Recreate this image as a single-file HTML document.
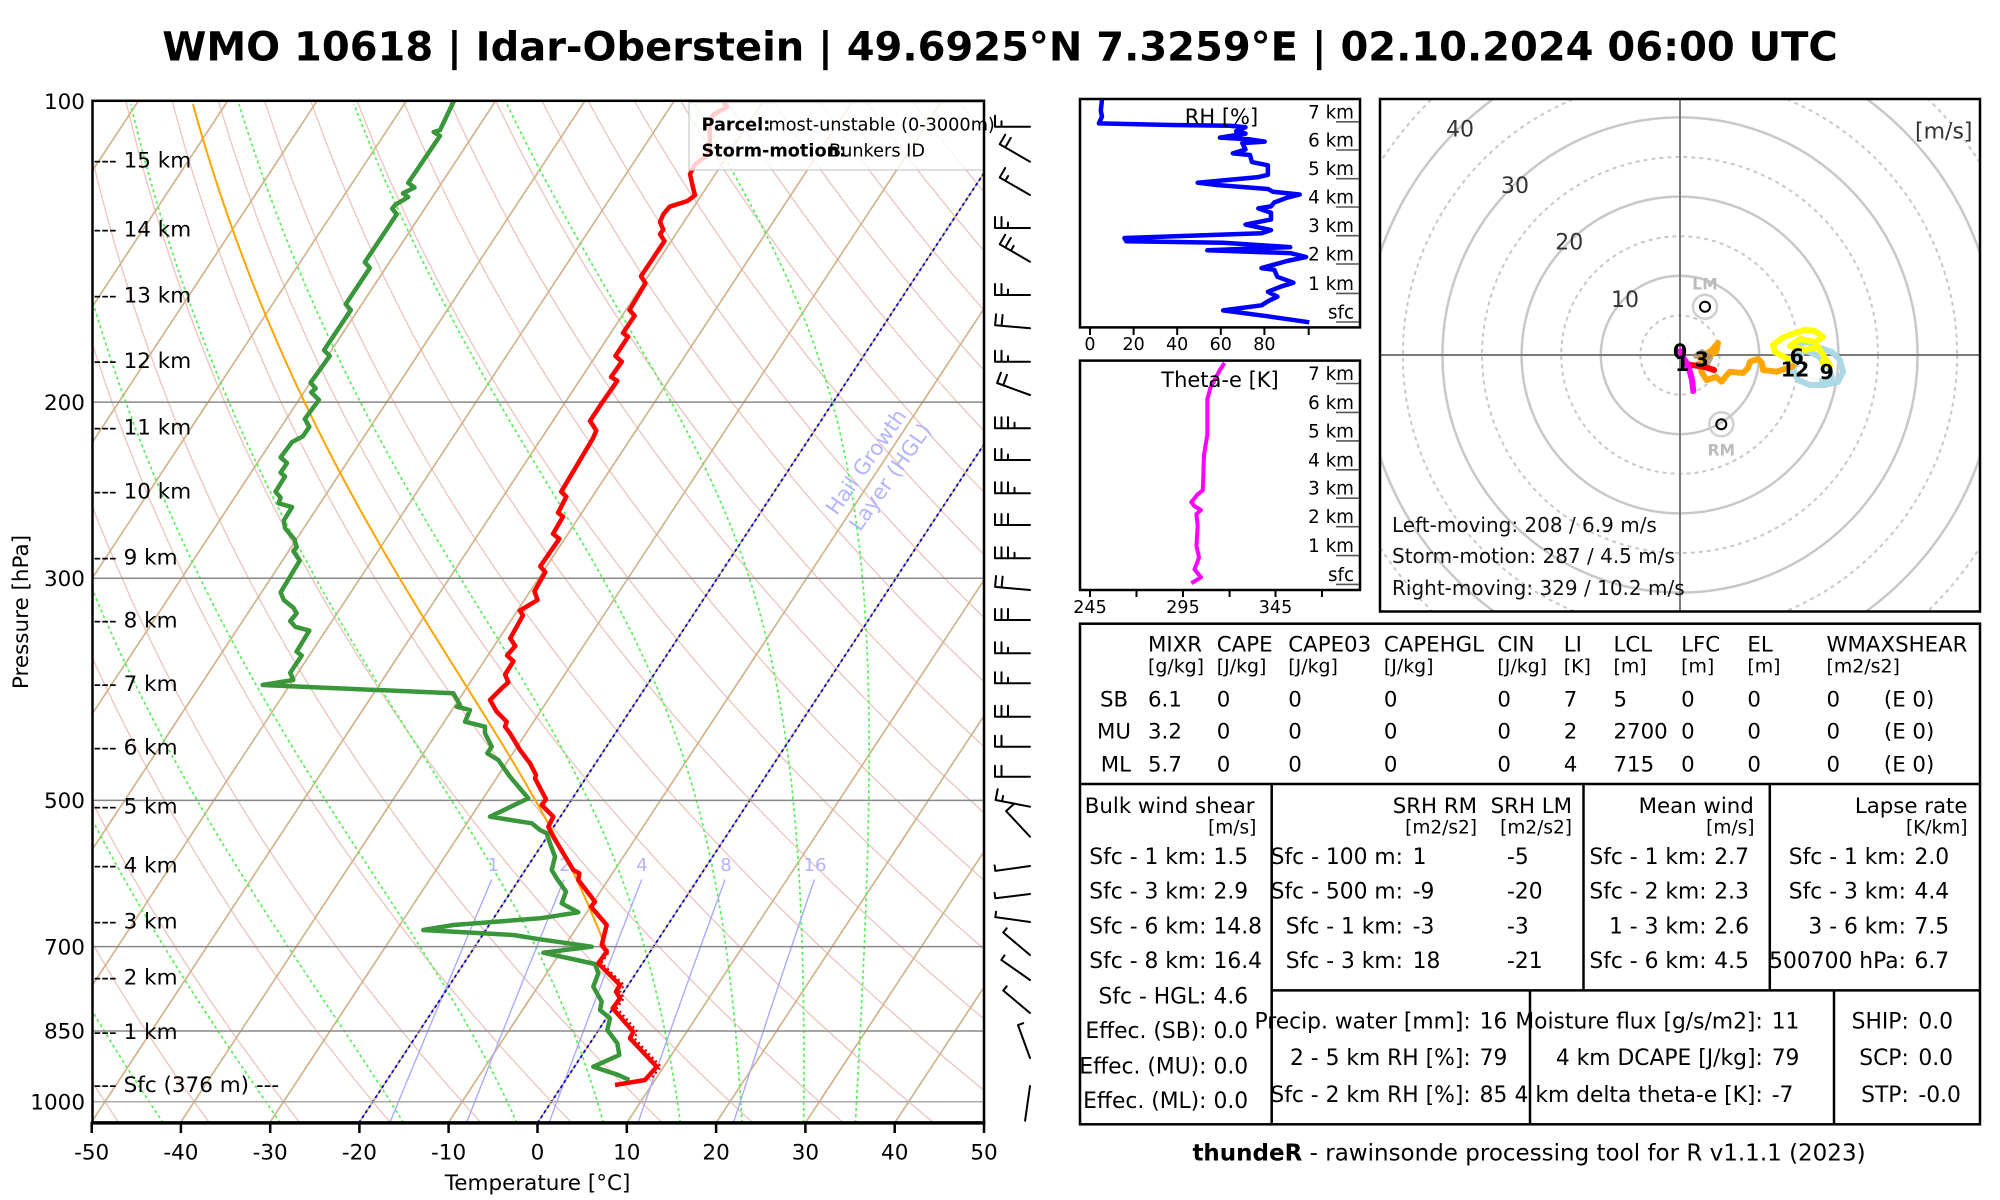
<!DOCTYPE html>
<html><head><meta charset="utf-8">
<style>
html,body{margin:0;padding:0;background:#fff;width:2000px;height:1200px;overflow:hidden}
svg{display:block}
text{font-family:"DejaVu Sans","Liberation Sans",sans-serif;}
</style></head><body>
<svg xmlns="http://www.w3.org/2000/svg" width="2000" height="1200" viewBox="0 0 2000 1200">
<defs>
<clipPath id="cp"><rect x="92.5" y="100.8" width="891.5" height="1022.1"/></clipPath>
<clipPath id="hc"><rect x="1380" y="99" width="600" height="512.5"/></clipPath>
<clipPath id="rhc"><rect x="1080" y="99" width="280" height="228.4"/></clipPath>
<clipPath id="tec"><rect x="1080" y="360.6" width="280" height="229.4"/></clipPath>
</defs>
<rect width="2000" height="1200" fill="#fff"/>
<text x="1000" y="60.5" text-anchor="middle" font-size="40" font-weight="bold">WMO 10618 | Idar-Oberstein | 49.6925°N 7.3259°E | 02.10.2024 06:00 UTC</text>

<!-- SKEW-T -->
<g clip-path="url(#cp)">
 <g id="dry" fill="none" stroke="#ebc4bc" stroke-width="1.3"></g>
 <g id="iso" fill="none" stroke="#d2b48c" stroke-width="1.7"></g>
 <g id="moist" fill="none" stroke="#55f055" stroke-width="1.7" stroke-dasharray="3,3"></g>
 <g id="mix" fill="none" stroke="#aaaaff" stroke-width="1.4"></g>
 <g id="hgl" fill="none" stroke="#0000cc" stroke-width="1.8" stroke-dasharray="3,3"></g>
 <g stroke="#888" stroke-width="1.5">
  <line x1="92" y1="402.1" x2="984" y2="402.1"/>
  <line x1="92" y1="578.3" x2="984" y2="578.3"/>
  <line x1="92" y1="800.4" x2="984" y2="800.4"/>
  <line x1="92" y1="946.6" x2="984" y2="946.6"/>
  <line x1="92" y1="1031" x2="984" y2="1031"/>
  <line x1="92" y1="1101.7" x2="984" y2="1101.7" stroke="#aaa"/>
 </g>
 <g font-size="18" fill="#b3b3ff" text-anchor="middle">
  <text x="493.3" y="870.8">1</text>
  <text x="565" y="870.8">2</text>
  <text x="642" y="870.8">4</text>
  <text x="726" y="870.8">8</text>
  <text x="815" y="870.8">16</text>
 </g>
 <g font-size="21" fill="#b3b3ff" text-anchor="middle">
  <text transform="translate(872,466) rotate(-55)">Hail Growth</text>
  <text transform="translate(896,481) rotate(-55)">Layer (HGL)</text>
 </g>
 <g id="parcel" fill="none" stroke="#ffa500" stroke-width="2"></g>
 <polyline fill="none" stroke="#cc0000" stroke-width="2.2" stroke-dasharray="2,3" points="604,945 609,952 601.5,963 624,985 620,992 624,998 617,1008 637.5,1031.7 634.5,1038.3 661,1066.7 650,1080"/>
 <polyline fill="none" stroke="#3a963a" stroke-width="4.5" stroke-linejoin="round" points="454,100.6 440,130.1 433.7,132 440,135.9 408.2,182.9 414.5,187.5 403,193.3 408.2,197.1 395.4,204.7 392.2,208.6 396.7,214.3 364.8,262.2 369.9,267.9 345.7,304.2 350.8,310 324,350.2 329.7,355.9 310.6,382.7 315.7,388.4 311.2,392.3 318.9,399.9 304.8,419 309.3,426.7 302.9,436.3 292.1,442 280.6,457.3 287,463.1 280.6,472.6 285,476.5 275.5,491.8 280.6,497.5 278.7,503.3 292.1,507.1 283.8,520.5 285,528.1 294.6,539.6 296.6,547.3 293.4,551.1 299.7,560.7 280.6,592.4 283.8,600 293.4,607.7 296.6,613.4 290.2,621 295.3,626.8 309.3,630.6 296.6,651.7 301.7,655.5 290.2,672.7 293.3,680 262.7,685 453.3,693.3 460,705 456.7,706.7 470,710 465,721.7 485,726.7 485,733.3 491.7,746.7 487.3,753.3 498.3,760 510,776.7 528.3,798.3 490,816.7 531.7,823.3 540,830 546.7,833.3 550,843.3 555,856.7 551.7,870 556.7,878.3 566,891.7 561.7,903.3 578.3,912.3 540,918.3 453.3,925 423.3,930 513.3,935 540,939.3 591.7,946.7 543.3,952.7 595,964 598.3,973.3 593.3,986.7 601.7,1001.7 600,1010 610,1018.3 607.3,1030 617.3,1043.3 619.3,1055 593.3,1066.7 618.3,1075 629.3,1080"/>
 <polyline fill="none" stroke="#ff0000" stroke-width="4.5" stroke-linejoin="round" points="722.6,100.6 727,107 713,114.8 709.8,126.3 709.8,153 695,164.6 690,174 693,187.5 695,195.2 687.5,201 669.6,206.7 663.3,214.3 660,222 663.3,229.6 660,234.2 664.5,241 641,276.3 645.4,283.2 629.5,310 634.6,315.7 623,333 628,336.8 615.4,356 621.8,361.7 611,377 617.3,380.8 602.7,401.8 590,421 596.3,430.5 593,438.2 561.2,491.8 566.3,496.7 558,512.8 563,516.6 553,533.9 559.3,538.8 540.2,566.4 545.3,572.1 534.4,591.3 537.6,600 528,605.7 519.8,610.7 523,615.3 510.2,638.3 515.3,646 507,655.5 513.4,661.2 505.1,674.6 508.3,682.3 502,688 490,700 496.7,711.7 506.7,721.7 505,726.7 510,733.3 520,750 530,763.3 536,775 535,778.3 546,799.3 541.7,805 553.3,816.7 548.3,826.7 553.3,836.7 573.3,870 579.3,873.3 578.3,880 595,901.7 591,906.7 606.7,925 601.7,945 606.7,951.7 598.3,963.3 620,985 616,991.7 620,998.3 612.7,1008.3 633.3,1031.7 630,1038.3 656.7,1066.7 645,1080 615,1085"/>
 <rect x="689" y="102.5" width="300" height="67.5" fill="#fff" fill-opacity="0.8" stroke="#c8c8c8" stroke-width="1.2"/>
</g>
<g font-size="17.7">
 <text x="701.5" y="130.5" font-weight="bold">Parcel:</text>
 <text x="768.5" y="130.5">most-unstable (0-3000m)</text>
 <text x="701.5" y="156.5" font-weight="bold">Storm-motion:</text>
 <text x="829" y="156.5">Bunkers ID</text>
</g>
<rect x="92.5" y="100.8" width="891.5" height="1022.1" fill="none" stroke="#000" stroke-width="2.5"/>
<line x1="91" y1="1122.9" x2="985.5" y2="1122.9" stroke="#000" stroke-width="3.5"/>
<g stroke="#000" stroke-width="2.5">
 <line x1="91.7" y1="1122" x2="91.7" y2="1133"/><line x1="180.9" y1="1122" x2="180.9" y2="1133"/>
 <line x1="270.2" y1="1122" x2="270.2" y2="1133"/><line x1="359.4" y1="1122" x2="359.4" y2="1133"/>
 <line x1="448.6" y1="1122" x2="448.6" y2="1133"/><line x1="537.5" y1="1122" x2="537.5" y2="1133"/>
 <line x1="626.8" y1="1122" x2="626.8" y2="1133"/><line x1="716.1" y1="1122" x2="716.1" y2="1133"/>
 <line x1="805.4" y1="1122" x2="805.4" y2="1133"/><line x1="894.7" y1="1122" x2="894.7" y2="1133"/>
 <line x1="984" y1="1122" x2="984" y2="1133"/>
</g>
<g font-size="21.5" text-anchor="middle">
 <text x="91.7" y="1159.5">-50</text><text x="180.9" y="1159.5">-40</text><text x="270.2" y="1159.5">-30</text>
 <text x="359.4" y="1159.5">-20</text><text x="448.6" y="1159.5">-10</text><text x="537.5" y="1159.5">0</text>
 <text x="626.8" y="1159.5">10</text><text x="716.1" y="1159.5">20</text><text x="805.4" y="1159.5">30</text>
 <text x="894.7" y="1159.5">40</text><text x="984" y="1159.5">50</text>
 <text x="537.6" y="1190">Temperature [°C]</text>
 <text transform="translate(28,612) rotate(-90)">Pressure [hPa]</text>
</g>
<g font-size="21.5" text-anchor="end">
 <text x="85" y="109">100</text><text x="85" y="409.8">200</text><text x="85" y="586">300</text>
 <text x="85" y="808.1">500</text><text x="85" y="954.3">700</text><text x="85" y="1038.7">850</text>
 <text x="85" y="1109.4">1000</text>
</g>
<g font-size="21.5">
 <text x="93.5" y="167.7">--- 15 km</text><text x="93.5" y="236.6">--- 14 km</text>
 <text x="93.5" y="302.4">--- 13 km</text><text x="93.5" y="368.2">--- 12 km</text>
 <text x="93.5" y="434.4">--- 11 km</text><text x="93.5" y="498.3">--- 10 km</text>
 <text x="93.5" y="564.5">--- 9 km</text><text x="93.5" y="627.7">--- 8 km</text>
 <text x="93.5" y="691.1">--- 7 km</text><text x="93.5" y="754.3">--- 6 km</text>
 <text x="93.5" y="813.6">--- 5 km</text><text x="93.5" y="872.5">--- 4 km</text>
 <text x="93.5" y="928.4">--- 3 km</text><text x="93.5" y="984.7">--- 2 km</text>
 <text x="93.5" y="1039">--- 1 km</text><text x="93.5" y="1091.8">--- Sfc (376 m) ---</text>
</g>
<g id="barbs" fill="none" stroke="#000" stroke-width="2" stroke-linecap="round"></g>

<!-- RH panel -->
<g clip-path="url(#rhc)">
<polyline fill="none" stroke="#0000ff" stroke-width="4.5" stroke-linejoin="round" points="1102,99.6 1100.8,110.7 1102,116.6 1098.9,123.4 1172.2,125 1229.6,125.7 1245.5,127.3 1236,131.3 1245.5,133.6 1220,137.6 1248.7,139.2 1264.7,141.6 1242.3,143.1 1245.5,149.5 1232.8,153.4 1250,155 1251.9,162.1 1267.9,165.3 1267.9,174.8 1258.3,177.1 1197.7,182.7 1216.8,185 1267.9,189 1273,191.8 1299.7,194.5 1287,197.7 1274.2,202.5 1271,206.4 1258.3,208.4 1271,212.7 1271,219.5 1245.5,224.6 1271,230.1 1261.5,233.3 1124.4,238 1126.3,241.2 1223.2,242.8 1290.2,247.1 1207.3,250.3 1290.2,253.1 1306.1,257 1287,261 1261.5,268.1 1274.2,269.7 1277.4,276.8 1293.4,282.7 1280.6,286.7 1267.9,291.8 1277.4,296.6 1267.9,301.3 1261.5,305.3 1223.2,310.4 1267.9,316.3 1309.3,322.3"/>
</g>
<rect x="1080" y="99" width="280" height="228.4" fill="none" stroke="#000" stroke-width="2.5"/>
<g stroke="#555" stroke-width="1.6">
 <line x1="1336" y1="121.8" x2="1359" y2="121.8"/><line x1="1336" y1="150" x2="1359" y2="150"/>
 <line x1="1336" y1="178.7" x2="1359" y2="178.7"/><line x1="1336" y1="207" x2="1359" y2="207"/>
 <line x1="1336" y1="235.7" x2="1359" y2="235.7"/><line x1="1336" y1="264" x2="1359" y2="264"/>
 <line x1="1336" y1="293.4" x2="1359" y2="293.4"/><line x1="1336" y1="322" x2="1359" y2="322"/>
</g>
<g font-size="18.3" text-anchor="end">
 <text x="1354" y="118.3">7 km</text><text x="1354" y="146.5">6 km</text><text x="1354" y="175.2">5 km</text>
 <text x="1354" y="203.5">4 km</text><text x="1354" y="232.2">3 km</text><text x="1354" y="260.5">2 km</text>
 <text x="1354" y="289.9">1 km</text><text x="1354" y="318.5">sfc</text>
</g>
<text x="1221.5" y="124" font-size="21" text-anchor="middle">RH [%]</text>
<g stroke="#000" stroke-width="2">
 <line x1="1090" y1="327" x2="1090" y2="335"/><line x1="1133.6" y1="327" x2="1133.6" y2="335"/>
 <line x1="1177.2" y1="327" x2="1177.2" y2="335"/><line x1="1220.8" y1="327" x2="1220.8" y2="335"/>
 <line x1="1264.4" y1="327" x2="1264.4" y2="335"/><line x1="1308.7" y1="327" x2="1308.7" y2="335"/>
</g>
<g font-size="17.5" text-anchor="middle">
 <text x="1090" y="350">0</text><text x="1133.6" y="350">20</text><text x="1177.2" y="350">40</text>
 <text x="1220.8" y="350">60</text><text x="1264.4" y="350">80</text>
</g>

<!-- Theta-e panel -->
<g clip-path="url(#tec)">
<polyline fill="none" stroke="#ff00ff" stroke-width="4" stroke-linejoin="round" points="1224.5,363 1220,369.7 1210.5,387.5 1207.3,399.4 1207.3,435 1204,454.7 1202.8,490.3 1197.7,494.3 1191.3,502.2 1194.5,506.1 1200.9,510.1 1196.4,514 1197.7,525.9 1196.4,545.7 1199,557.5 1194.5,569.4 1201,577.3 1191.3,583.2"/>
</g>
<rect x="1080" y="360.6" width="280" height="229.4" fill="none" stroke="#000" stroke-width="2.5"/>
<g stroke="#555" stroke-width="1.6">
 <line x1="1336" y1="383.5" x2="1359" y2="383.5"/><line x1="1336" y1="412.4" x2="1359" y2="412.4"/>
 <line x1="1336" y1="440.9" x2="1359" y2="440.9"/><line x1="1336" y1="469.8" x2="1359" y2="469.8"/>
 <line x1="1336" y1="498.2" x2="1359" y2="498.2"/><line x1="1336" y1="526.7" x2="1359" y2="526.7"/>
 <line x1="1336" y1="555.6" x2="1359" y2="555.6"/><line x1="1336" y1="584.4" x2="1359" y2="584.4"/>
</g>
<g font-size="18.3" text-anchor="end">
 <text x="1354" y="380">7 km</text><text x="1354" y="408.9">6 km</text><text x="1354" y="437.4">5 km</text>
 <text x="1354" y="466.3">4 km</text><text x="1354" y="494.7">3 km</text><text x="1354" y="523.2">2 km</text>
 <text x="1354" y="552.1">1 km</text><text x="1354" y="580.9">sfc</text>
</g>
<text x="1220" y="387" font-size="21" text-anchor="middle">Theta-e [K]</text>
<g stroke="#000" stroke-width="2">
 <line x1="1090" y1="590" x2="1090" y2="597"/><line x1="1136.5" y1="590" x2="1136.5" y2="597"/>
 <line x1="1183" y1="590" x2="1183" y2="597"/><line x1="1229.6" y1="590" x2="1229.6" y2="597"/>
 <line x1="1275.5" y1="590" x2="1275.5" y2="597"/><line x1="1322" y1="590" x2="1322" y2="597"/>
</g>
<g font-size="17.5" text-anchor="middle">
 <text x="1090" y="613">245</text><text x="1183" y="613">295</text><text x="1275.5" y="613">345</text>
</g>

<!-- Hodograph -->
<g clip-path="url(#hc)">
 <g fill="none" stroke="#c8c8c8" stroke-width="2" stroke-dasharray="4,4">
  <circle cx="1680" cy="355" r="39.6"/><circle cx="1680" cy="355" r="118.8"/>
  <circle cx="1680" cy="355" r="198"/><circle cx="1680" cy="355" r="277.2"/>
  <circle cx="1680" cy="355" r="356.4"/><circle cx="1680" cy="355" r="435.6"/>
 </g>
 <g fill="none" stroke="#c8c8c8" stroke-width="2.5">
  <circle cx="1680" cy="355" r="79.2"/><circle cx="1680" cy="355" r="158.4"/>
  <circle cx="1680" cy="355" r="237.6"/><circle cx="1680" cy="355" r="316.8"/>
  <circle cx="1680" cy="355" r="396"/>
 </g>
 <line x1="1680" y1="99" x2="1680" y2="612" stroke="#7a7a7a" stroke-width="2"/>
 <line x1="1380" y1="355" x2="1980" y2="355" stroke="#7a7a7a" stroke-width="2"/>
 <g font-size="22" fill="#333" text-anchor="middle">
  <text x="1625" y="307">10</text><text x="1569.3" y="249.7">20</text>
  <text x="1515" y="193">30</text><text x="1460" y="136.3">40</text>
 </g>
 <text x="1972.5" y="138.4" font-size="22" fill="#333" text-anchor="end">[m/s]</text>
 <circle cx="1705" cy="306.7" r="12" fill="none" stroke="#cfcfcf" stroke-width="2.5"/>
 <circle cx="1705" cy="306.7" r="5" fill="none" stroke="#000" stroke-width="2"/>
 <circle cx="1721.3" cy="424.3" r="12" fill="none" stroke="#cfcfcf" stroke-width="2.5"/>
 <circle cx="1721.3" cy="424.3" r="5" fill="none" stroke="#000" stroke-width="2"/>
 <text x="1705" y="289.5" font-size="15.6" font-weight="bold" fill="#bbb" text-anchor="middle">LM</text>
 <text x="1721.3" y="455.5" font-size="15.6" font-weight="bold" fill="#bbb" text-anchor="middle">RM</text>
 <g fill="none" stroke-width="6" stroke-linecap="round" stroke-linejoin="round">
  <polyline stroke="#add8e6" points="1797,358 1795,345 1808,342 1820,348 1832,352 1840,360 1843,372 1838,382 1825,385 1810,385 1798,380 1793,370 1797,358 1805,350 1818,356 1828,365 1832,378 1822,380"/>
  <polyline stroke="#ffff00" points="1790,360 1775,352 1773,345 1782,338 1795,333 1805,330 1815,331 1823,337 1815,342 1800,339 1790,346 1805,350 1818,347 1825,358 1830,366 1822,362"/>
  <polyline stroke="#ffa500" points="1700,358 1712,350 1718,343 1716,352 1705,358 1700,366 1702,373 1706.7,380 1716,377 1721.7,381.7 1726,376 1730,371.7 1743,373 1748,368 1750,361.7 1758,359 1762,363 1763,370 1776.7,371.7 1786.7,368.3 1793,366"/>
  <polyline stroke="#a89070" stroke-opacity="0.8" points="1696,356 1702,352 1710,358 1706,366 1698,364"/>
  <polyline stroke="#ff0000" points="1684,362 1690,365 1700,366 1708,368 1714,370"/>
  <polyline stroke="#ff00ff" points="1680.5,351 1683,357 1686.7,363.3 1690,372 1692,380 1693.3,391"/>
 </g>
 <g font-size="20.5" font-weight="bold" text-anchor="middle">
  <text x="1680" y="358.3">0</text><text x="1682.3" y="371">1</text><text x="1701.7" y="366.7">3</text>
  <text x="1796.7" y="363.3">6</text><text x="1795" y="376.7">12</text><text x="1826.7" y="379">9</text>
 </g>
 <g font-size="20" fill="#111">
  <text x="1392" y="531.8">Left-moving: 208 / 6.9 m/s</text>
  <text x="1392" y="563">Storm-motion: 287 / 4.5 m/s</text>
  <text x="1392" y="595">Right-moving: 329 / 10.2 m/s</text>
 </g>
</g>
<rect x="1380" y="99" width="600" height="512.5" fill="none" stroke="#000" stroke-width="2.5"/>

<!-- Table -->
<g fill="none" stroke="#000" stroke-width="2.5">
 <rect x="1080" y="623.7" width="900" height="500.6"/>
 <line x1="1080" y1="784" x2="1980" y2="784"/>
 <line x1="1271.7" y1="990.4" x2="1980" y2="990.4"/>
 <line x1="1271.7" y1="784" x2="1271.7" y2="1124.3"/>
 <line x1="1583.5" y1="784" x2="1583.5" y2="990.4"/>
 <line x1="1769.8" y1="784" x2="1769.8" y2="990.4"/>
 <line x1="1530" y1="990.4" x2="1530" y2="1124.3"/>
 <line x1="1834" y1="990.4" x2="1834" y2="1124.3"/>
</g>
<g font-size="21.3">
 <text x="1148" y="651.7">MIXR</text><text x="1216.8" y="651.7">CAPE</text><text x="1288.3" y="651.7">CAPE03</text>
 <text x="1383.9" y="651.7">CAPEHGL</text><text x="1497.4" y="651.7">CIN</text><text x="1563.8" y="651.7">LI</text>
 <text x="1613.5" y="651.7">LCL</text><text x="1681.1" y="651.7">LFC</text><text x="1747.4" y="651.7">EL</text>
 <text x="1826.5" y="651.7">WMAXSHEAR</text>
</g>
<g font-size="18.9">
 <text x="1148" y="672.7">[g/kg]</text><text x="1216.8" y="672.7">[J/kg]</text><text x="1288.3" y="672.7">[J/kg]</text>
 <text x="1383.9" y="672.7">[J/kg]</text><text x="1497.4" y="672.7">[J/kg]</text><text x="1563.8" y="672.7">[K]</text>
 <text x="1613.5" y="672.7">[m]</text><text x="1681.1" y="672.7">[m]</text><text x="1747.4" y="672.7">[m]</text>
 <text x="1826.5" y="672.7">[m2/s2]</text>
</g>
<g font-size="21.3">
 <text x="1100" y="706.4">SB</text><text x="1148" y="706.4">6.1</text><text x="1216.8" y="706.4">0</text><text x="1288.3" y="706.4">0</text><text x="1383.9" y="706.4">0</text><text x="1497.4" y="706.4">0</text><text x="1563.8" y="706.4">7</text><text x="1613.5" y="706.4">5</text><text x="1681.1" y="706.4">0</text><text x="1747.4" y="706.4">0</text><text x="1826.5" y="706.4">0</text><text x="1883.9" y="706.4">(E 0)</text>
 <text x="1097" y="738.5">MU</text><text x="1148" y="738.5">3.2</text><text x="1216.8" y="738.5">0</text><text x="1288.3" y="738.5">0</text><text x="1383.9" y="738.5">0</text><text x="1497.4" y="738.5">0</text><text x="1563.8" y="738.5">2</text><text x="1613.5" y="738.5">2700</text><text x="1681.1" y="738.5">0</text><text x="1747.4" y="738.5">0</text><text x="1826.5" y="738.5">0</text><text x="1883.9" y="738.5">(E 0)</text>
 <text x="1100.8" y="771.4">ML</text><text x="1148" y="771.4">5.7</text><text x="1216.8" y="771.4">0</text><text x="1288.3" y="771.4">0</text><text x="1383.9" y="771.4">0</text><text x="1497.4" y="771.4">0</text><text x="1563.8" y="771.4">4</text><text x="1613.5" y="771.4">715</text><text x="1681.1" y="771.4">0</text><text x="1747.4" y="771.4">0</text><text x="1826.5" y="771.4">0</text><text x="1883.9" y="771.4">(E 0)</text>
</g>
<g font-size="21.3">
 <text x="1084.8" y="813.2">Bulk wind shear</text>
 <text x="1477" y="813.2" text-anchor="end">SRH RM</text>
 <text x="1572" y="813.2" text-anchor="end">SRH LM</text>
 <text x="1753.8" y="813.2" text-anchor="end">Mean wind</text>
 <text x="1967.5" y="813.2" text-anchor="end">Lapse rate</text>
</g>
<g font-size="18.5" text-anchor="end">
 <text x="1256.4" y="833.4">[m/s]</text>
 <text x="1477" y="833.4">[m2/s2]</text>
 <text x="1572" y="833.4">[m2/s2]</text>
 <text x="1754.5" y="833.4">[m/s]</text>
 <text x="1967.5" y="833.4">[K/km]</text>
</g>
<g font-size="21.8" text-anchor="end">
 <text x="1206.5" y="864.1">Sfc - 1 km:</text><text x="1206.5" y="898.5">Sfc - 3 km:</text>
 <text x="1206.5" y="933.7">Sfc - 6 km:</text><text x="1206.5" y="968.2">Sfc - 8 km:</text>
 <text x="1206.5" y="1003.7">Sfc - HGL:</text><text x="1206.5" y="1038.2">Effec. (SB):</text>
 <text x="1206.5" y="1073.4">Effec. (MU):</text><text x="1206.5" y="1108.2">Effec. (ML):</text>
 <text x="1403" y="864.1">Sfc - 100 m:</text><text x="1403" y="898.5">Sfc - 500 m:</text>
 <text x="1403" y="933.7">Sfc - 1 km:</text><text x="1403" y="968.2">Sfc - 3 km:</text>
 <text x="1706.6" y="864.1">Sfc - 1 km:</text><text x="1706.6" y="898.5">Sfc - 2 km:</text>
 <text x="1706.6" y="933.7">1 - 3 km:</text><text x="1706.6" y="968.2">Sfc - 6 km:</text>
 <text x="1906" y="864.1">Sfc - 1 km:</text><text x="1906" y="898.5">Sfc - 3 km:</text>
 <text x="1906" y="933.7">3 - 6 km:</text><text x="1906" y="968.2">500700 hPa:</text>
 <text x="1470.7" y="1028.6">Precip. water [mm]:</text><text x="1470.7" y="1065">2 - 5 km RH [%]:</text>
 <text x="1470.7" y="1102.1">Sfc - 2 km RH [%]:</text>
 <text x="1762.8" y="1028.6">Moisture flux [g/s/m2]:</text><text x="1762.8" y="1065">4 km DCAPE [J/kg]:</text>
 <text x="1762.8" y="1102.1">4 km delta theta-e [K]:</text>
 <text x="1908.8" y="1028.6">SHIP:</text><text x="1908.8" y="1065">SCP:</text><text x="1908.8" y="1102.1">STP:</text>
</g>
<g font-size="21.8">
 <text x="1213.5" y="864.1">1.5</text><text x="1213.5" y="898.5">2.9</text>
 <text x="1213.5" y="933.7">14.8</text><text x="1213.5" y="968.2">16.4</text>
 <text x="1213.5" y="1003.7">4.6</text><text x="1213.5" y="1038.2">0.0</text>
 <text x="1213.5" y="1073.4">0.0</text><text x="1213.5" y="1108.2">0.0</text>
 <text x="1412.6" y="864.1">1</text><text x="1412.6" y="898.5">-9</text>
 <text x="1412.6" y="933.7">-3</text><text x="1412.6" y="968.2">18</text>
 <text x="1507" y="864.1">-5</text><text x="1507" y="898.5">-20</text>
 <text x="1507" y="933.7">-3</text><text x="1507" y="968.2">-21</text>
 <text x="1714.3" y="864.1">2.7</text><text x="1714.3" y="898.5">2.3</text>
 <text x="1714.3" y="933.7">2.6</text><text x="1714.3" y="968.2">4.5</text>
 <text x="1914.5" y="864.1">2.0</text><text x="1914.5" y="898.5">4.4</text>
 <text x="1914.5" y="933.7">7.5</text><text x="1914.5" y="968.2">6.7</text>
 <text x="1479.6" y="1028.6">16</text><text x="1479.6" y="1065">79</text><text x="1479.6" y="1102.1">85</text>
 <text x="1771.7" y="1028.6">11</text><text x="1771.7" y="1065">79</text><text x="1771.7" y="1102.1">-7</text>
 <text x="1918.4" y="1028.6">0.0</text><text x="1918.4" y="1065">0.0</text><text x="1918.4" y="1102.1">-0.0</text>
</g>
<text x="1529" y="1160.6" font-size="23" text-anchor="middle"><tspan font-weight="bold">thundeR</tspan> - rawinsonde processing tool for R v1.1.1 (2023)</text>
</svg>
<script>
(function(){
var NS='http://www.w3.org/2000/svg';
var B=1122.9,K=434.7,PTOP=100.8;
function Y(p){return B+K*Math.log(p/1050);}
function X(t,p){return 537.5+8.93*t+0.658*(B-Y(p));}
function path(g,pts){var e=document.createElementNS(NS,'path');var d='M'+pts.map(function(q){return q[0].toFixed(1)+' '+q[1].toFixed(1);}).join(' L');e.setAttribute('d',d);document.getElementById(g).appendChild(e);}
var t,k,p;
for(t=-130;t<=50;t+=10){path('iso',[[X(t,1050),Y(1050)],[X(t,100),Y(100)]]);}
for(k=-6;k<=22;k++){var th=273.15+10*k,pts=[];for(p=1050;p>=100;p-=10){pts.push([X(th*Math.pow(p/1000,0.286)-273.15,p),Y(p)]);}path('dry',pts);}
function es(T){return 6.112*Math.exp(17.67*T/(T+243.5));}
function dTdlnp(T,p,Lv){var Tk=T+273.15,e=es(T);if(e>p*0.5)e=p*0.5;var r=0.622*e/(p-e),Rd=287.04,cp=1005.7;return (Rd*Tk+Lv*r)/(cp+Lv*Lv*r*0.622/(Rd*Tk*Tk));}
function moist(T0,p0,Lv,keep){var N=600,l0=Math.log(p0),l1=Math.log(PTOP),h=(l1-l0)/N,T=T0,pts=keep?[[X(T0,p0),Y(p0)]]:null;
 for(var i=0;i<N;i++){var l=l0+i*h,pp=Math.exp(l);var k1=dTdlnp(T,pp,Lv);var pm=Math.exp(l+h/2);var k2=dTdlnp(T+k1*h/2,pm,Lv);T+=k2*h;if(keep){var pn=Math.exp(l+h);pts.push([X(T,pn),Y(pn)]);}}
 return keep?pts:X(T,PTOP);}
function tuneLv(T0,target){var lo=1.5e6,hi=3.5e6;for(var i=0;i<40;i++){var m=(lo+hi)/2;if(moist(T0,1050,m,false)<target)lo=m;else hi=m;}return (lo+hi)/2;}
var warm=[[7.4,130.7],[16,239],[22.9,354],[29.8,507],[35.6,695]];
var lvCold=2.501e6;
warm.forEach(function(w,i){var lv=tuneLv(w[0],w[1]);if(!(lv>1.6e6&&lv<3.4e6))lv=2.501e6;if(i===0)lvCold=lv;path('moist',moist(w[0],1050,lv,true));});
[-41.9,-28.8,-15,-2.3].forEach(function(t0){path('moist',moist(t0,1050,lvCold,true));});
[1,2,4,8,16].forEach(function(w){var pts=[];for(var q=1050;q>=600;q-=10){var e=w/1000*q/(0.622+w/1000);var l=Math.log(e/6.112);var tt=243.5*l/(17.67-l);pts.push([X(tt,q),Y(q)]);}path('mix',pts);});
[-20,0].forEach(function(tt){path('hgl',[[X(tt,1050),Y(1050)],[X(tt,100),Y(100)]]);});
path('parcel',moist(-5.2,702.7,2.501e6,true));
var barbs=[[126.7,270,1,1],[161.7,300,2,0],[195,300,1,1],[228,270,2,1],[261.7,300,2,1],[295,270,2,1],[328.3,275,2,0],[361.7,270,2,1],[395,290,2,0],[428.3,270,3,1],[460,270,2,1],[493.3,270,3,1],[525,270,3,0],[558.3,270,3,1],[590,275,2,0],[620,270,3,0],[653.3,270,2,1],[683.3,270,2,1],[716.7,270,3,0],[746.7,270,2,0],[776.7,270,2,0],[806.7,281,1,1],[836.7,317,1,0],[866,262,0,1],[894,263,0,1],[922,278,0,1],[955,310,0,1],[980,305,0,1],[1013,310,0,1],[1058,340,0,1],[1086,188,0,0]];
var g=document.getElementById('barbs');
barbs.forEach(function(b){var y=b[0],r=b[1]*Math.PI/180,sx=Math.sin(r),sy=-Math.cos(r),L=35,ax=1030,ay=y;var px=-sy,py=sx;
var d='M'+ax+' '+ay+' L'+(ax+L*sx).toFixed(1)+' '+(ay+L*sy).toFixed(1);
var pos=L,i;for(i=0;i<b[2];i++){var bx=ax+pos*sx,by=ay+pos*sy;d+=' M'+bx.toFixed(1)+' '+by.toFixed(1)+' L'+(bx+11*px).toFixed(1)+' '+(by+11*py).toFixed(1);pos-=6.5;}
for(i=0;i<b[3];i++){var hx=ax+pos*sx,hy=ay+pos*sy;d+=' M'+hx.toFixed(1)+' '+hy.toFixed(1)+' L'+(hx+5.5*px).toFixed(1)+' '+(hy+5.5*py).toFixed(1);pos-=6.5;}
var e=document.createElementNS(NS,'path');e.setAttribute('d',d);g.appendChild(e);});
})();
</script>
</body></html>
